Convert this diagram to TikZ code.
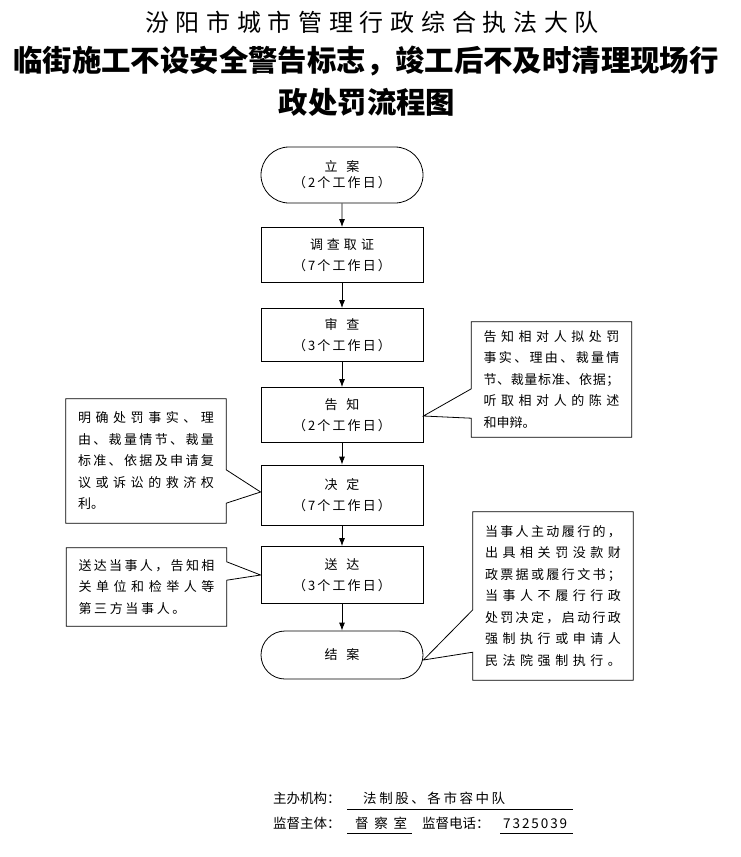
\documentclass[tikz,border=0pt]{standalone}
\usepackage{fontspec}
\setmainfont{Noto Sans CJK SC}
\usepackage{tikz}
\usetikzlibrary{shapes,arrows.meta,calc}

% spread the characters of one line over a given width
\makeatletter
\newcommand\jz[2][136pt]{\leavevmode\hbox to #1{\jz@loop#2\@nil}}
\def\jz@loop#1{\ifx\@nil#1\unskip\else#1\hfil\expandafter\jz@loop\fi}
\makeatother

\begin{document}
\begin{tikzpicture}[x=1pt,y=-1pt,
	block/.style={
		node distance = 80pt,
		rectangle,
		draw,
		line width=0.8pt,
		minimum width=162pt,
		minimum height=55pt,
		inner sep=0pt,
		align=center,
		font=\fontsize{13}{21}\selectfont},
	terminal/.style={
		block,
		rounded rectangle},
	note/.style={
		rectangle,
		minimum width=160pt,
		inner xsep=12pt,
		inner ysep=0pt,
		text width=136pt,
		align=left,
		font=\fontsize{13}{21.5}\selectfont},
	notebox/.style={
		draw,
		line width=0.8pt},
	line/.style={
		draw,
		line width=0.8pt,
		-{Latex[length=8pt,width=6pt]}},
	footlabel/.style={
		anchor=base west,
		inner sep=0pt,
		font=\fontsize{13.5}{16}\selectfont},
	footvalue/.style={
		footlabel,
		text depth=6pt}]

    \useasboundingbox (0,0) rectangle (740,857);

    % Title
    \node [font=\fontsize{24}{24}\selectfont] (title1) at (372,22) {\jz[454pt]{汾阳市城市管理行政综合执法大队}};
    \node [font=\fontsize{29.4}{30}\selectfont\bfseries] (title2) at (366,61) {临街施工不设安全警告标志，竣工后不及时清理现场行};
    \node [font=\fontsize{29.4}{30}\selectfont\bfseries] (title3) at (367,102) {政处罚流程图};

    % Place nodes
    \node [terminal, minimum height=56pt, font=\fontsize{13}{16}\selectfont] (lian) at (342,175) {立\hspace{9pt}案\\\jz[98pt]{（2个工作日）}};
    \node [block, below of=lian] (diaocha) {\jz[64pt]{调查取证}\\\jz[98pt]{（7个工作日）}};
    \node [block, below of=diaocha, minimum height=53pt] (shencha) {审\hspace{9pt}查\\\jz[98pt]{（3个工作日）}};
    \node [block, below of=shencha] (gaozhi) {告\hspace{9pt}知\\\jz[98pt]{（2个工作日）}};
    \node [block, below of=gaozhi, minimum height=60pt] (jueding) {决\hspace{9pt}定\\\jz[98pt]{（7个工作日）}};
    \node [block, below of=jueding, minimum height=57pt] (songda) {送\hspace{9pt}达\\\jz[98pt]{（3个工作日）}};
    \node [terminal, below of=songda, minimum height=48pt] (jiean) {结\hspace{9pt}案};

    % Notes
    \node [note, minimum height=115pt] (gzNote) at (551.5,379.5) {\jz{告知相对人拟处罚}\\\jz{事实、理由、裁量情}\\\jz{节、裁量标准、依据；}\\\jz{听取相对人的陈述}\\和申辩。};
    \node [note, minimum height=124pt] (jdNote) at (146,461) {\jz{明确处罚事实、理}\\\jz{由、裁量情节、裁量}\\\jz{标准、依据及申请复}\\\jz{议或诉讼的救济权}\\利。};
    \node [note, minimum height=78pt] (sdNote) at (146.5,587) {\jz{送达当事人，告知相}\\\jz{关单位和检举人等}\\\jz[107pt]{第三方当事人。}};
    \node [note, minimum height=168pt] (lxNote) at (553,596) {\jz{当事人主动履行的，}\\\jz{出具相关罚没款财}\\\jz{政票据或履行文书；}\\\jz{当事人不履行行政}\\\jz{处罚决定，启动行政}\\\jz{强制执行或申请人}\\\jz{民法院强制执行。}};

    % Draw edges
    \path [line] (lian) -- (diaocha);
    \path [line] (diaocha) -- (shencha);
    \path [line] (shencha) -- (gaozhi);
    \path [line] (gaozhi) -- (jueding);
    \path [line] (jueding) -- (songda);
    \path [line] (songda) -- (jiean);

    % Draw callouts
    \path [notebox] (gzNote.north west) -- (gzNote.north east) -- (gzNote.south east) -- (gzNote.south west)
        -- ($(gzNote.south west)+(0,-19)$) -- ($(gaozhi.east)+(0,1)$) -- ($(gzNote.north west)+(0,67)$) -- cycle;
    \path [notebox] (jdNote.north west) -- (jdNote.north east) -- ($(jdNote.north east)+(0,71)$)
        -- ($(jueding.west)+(0,-3)$) -- ($(jdNote.south east)+(0,-20)$) -- (jdNote.south east) -- (jdNote.south west) -- cycle;
    \path [notebox] (sdNote.north west) -- (sdNote.north east) -- ($(sdNote.north east)+(0,14)$)
        -- (songda.west) -- ($(sdNote.south east)+(0,-46)$) -- (sdNote.south east) -- (sdNote.south west) -- cycle;
    \path [notebox] (lxNote.north west) -- (lxNote.north east) -- (lxNote.south east) -- (lxNote.south west)
        -- ($(lxNote.south west)+(0,-28)$) -- ($(jiean.east)+(0,5)$) -- ($(lxNote.north west)+(0,98)$) -- cycle;

    % Footer
    \node [footlabel] (zbLabel) at (273,803) {主办机构：};
    \node [footvalue, text width=226pt] (zbValue) at (347,803) {\hspace*{16pt}\jz[142pt]{法制股、各市容中队}};
    \node [footlabel] (jdLabel) at (273,828) {监督主体：};
    \node [footvalue, text depth=5pt, text width=65pt] (jdValue) at (347,828) {\hspace*{8pt}\jz[52pt]{督察室}};
    \node [footlabel] (dhLabel) at (422,828) {监督电话：};
    \node [footvalue, text depth=5pt, text width=73pt] (dhValue) at (500,828) {\hspace*{3pt}\jz[64pt]{7325039}};
    \draw (zbValue.south west) -- (zbValue.south east);
    \draw (jdValue.south west) -- (jdValue.south east);
    \draw (dhValue.south west) -- (dhValue.south east);
\end{tikzpicture}
\end{document}
